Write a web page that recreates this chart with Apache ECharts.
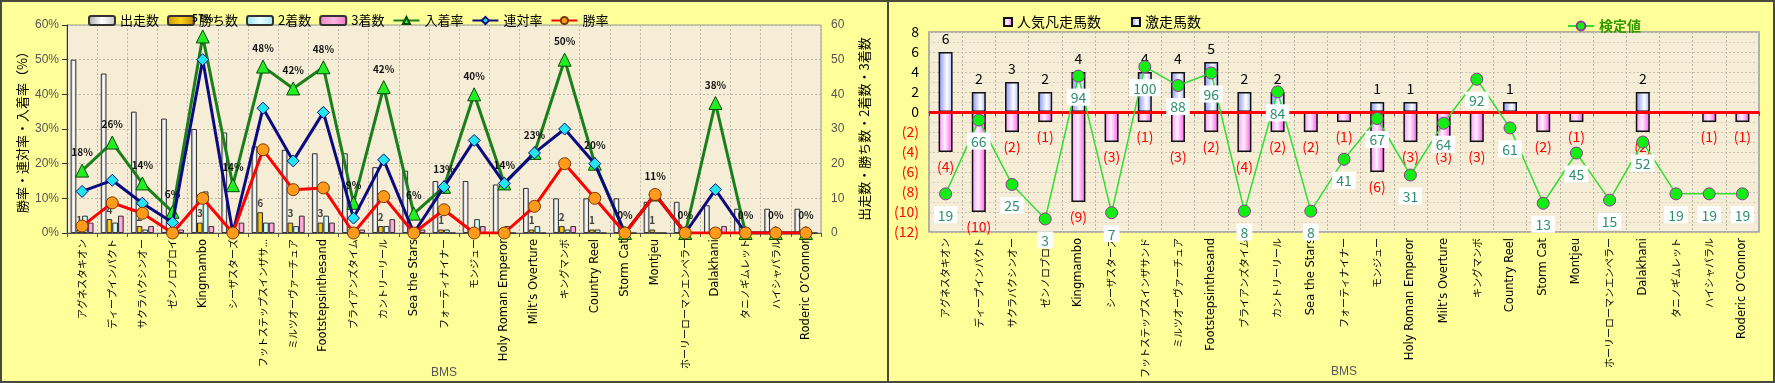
<!DOCTYPE html>
<html>
<head>
<meta charset="utf-8">
<script src="https://cdn.jsdelivr.net/npm/echarts@6/dist/echarts.min.js"></script>
<style>
html,body{margin:0;padding:0;background:#FFFF99;}
#wrap{position:relative;width:1775px;height:383px;}
#chart{position:absolute;left:0;top:0;width:1775px;height:383px;}
.bd{position:absolute;background:#4a4a3a;pointer-events:none;}
</style>
</head>
<body>
<div id="wrap">
<div id="chart"></div>
<div class="bd" style="left:0;top:0;width:1775px;height:2px;"></div>
<div class="bd" style="left:0;bottom:0;width:1775px;height:2px;"></div>
<div class="bd" style="left:0;top:0;width:2px;height:383px;"></div>
<div class="bd" style="right:0;top:0;width:2px;height:383px;"></div>
<div class="bd" style="left:887px;top:0;width:2px;height:383px;"></div>
</div>
<script>
// ---- data ----
const categories = ['アグネスタキオン','ディープインパクト','サクラバクシンオー','ゼンノロブロイ','Kingmambo','シーザスターズ','フットステップスインザサンド','ミルツオーヴァーチュア','Footstepsinthesand','ブライアンズタイム','カントリーリール','Sea the Stars','フォーティナイナー','モンジュー','Holy Roman Emperor','Milt’s Overture','キングマンボ','Country Reel','Storm Cat','Montjeu','ホーリーローマンエンペラー','Dalakhani','タニノギムレット','ハイシャパラル','Roderic O’Connor'];
const starts  = [50,46,35,33,30,29,25,24,23,23,19,18,15,15,14,13,10,10,10,9,9,8,7,7,7];
const wins    = [1,4,2,0,3,0,6,3,3,0,2,0,1,0,0,1,2,1,0,1,0,0,0,0,0];
const seconds = [5,3,1,1,12,0,3,2,5,1,2,0,1,4,2,2,1,1,0,0,0,1,0,0,0];
const thirds  = [3,5,2,1,2,3,3,5,3,1,4,1,0,2,0,0,2,0,0,0,0,2,0,0,0];
const placeRate = [18,26.1,14.3,6.1,56.7,13.8,48,41.7,47.8,8.7,42.1,5.6,13.3,40,14.3,23.1,50,20,0,11.1,0,37.5,0,0,0];
const quinellaRate = [12,15.2,8.6,3,50,0,36,20.8,34.8,4.3,21.1,0,13.3,26.7,14.3,23.1,30,20,0,11.1,0,12.5,0,0,0];
const winRate = [2,8.7,5.7,0,10,0,24,12.5,13,0,10.5,0,6.7,0,0,7.7,20,10,0,11.1,0,0,0,0,0];
const gekisou = [6,2,3,2,4,0,4,4,5,2,2,0,0,1,1,0,0,1,0,0,0,2,0,0,0];
const bonsou  = [-4,-10,-2,-1,-9,-3,-1,-3,-2,-4,-2,-2,-1,-6,-3,-3,-3,0,-2,-1,0,-2,0,-1,-1];
const kentei  = [19,66,25,3,94,7,100,88,96,8,84,8,41,67,31,64,92,61,13,45,15,52,19,19,19];

const FONT = '"Noto Sans CJK JP", "Noto Sans", sans-serif';
const LAT = '"Liberation Sans", Arial, sans-serif';
const DJV = '"DejaVu Sans", sans-serif';
const G = echarts.graphic.LinearGradient;
const plotBg = '#F6EDD6';

const chart = echarts.init(document.getElementById('chart'), null, {renderer:'canvas'});

const isKana = s => /[\u3040-\u30ff]/.test(s);
const xCommon = (gi, w) => ({
  type:'category', gridIndex:gi, data:categories,
  name:'BMS', nameLocation:'middle', nameGap:134, nameMoveOverlap:false,
  nameTextStyle:{color:'#555', fontSize:12, fontFamily:LAT},
  axisLine:{lineStyle:{color:'#555'}},
  axisTick:{show:true, length:4, lineStyle:{color:'#555'}},
  axisLabel:{interval:0, rotate:90, color:'#000', margin:6,
             width:w, overflow:'truncate',
             formatter:v => isKana(v) ? '{jp|'+v+'}' : '{en|'+v+'}',
             rich:{jp:{fontSize:10, fontFamily:FONT, color:'#000'},
                   en:{fontSize:11.5, fontFamily:DJV, color:'#000'}}},
  splitLine:{show:true, interval:0, lineStyle:{color:'#bdb6a6', type:[2,2], width:1}}
});

const option = {
  animation:false,
  textStyle:{fontFamily:FONT},
  grid:[
    {left:67, top:25, width:754, height:208, outerBoundsMode:'none', containLabel:false, show:true, backgroundColor:plotBg, borderColor:'#999', borderWidth:1},
    {left:929, top:32, width:830, height:200, outerBoundsMode:'none', containLabel:false, show:true, backgroundColor:plotBg, borderColor:'#999', borderWidth:1.5}
  ],
  legend:[
    {left:83, top:9, itemWidth:26, itemHeight:9, itemGap:8,
     textStyle:{fontSize:13, color:'#000', fontFamily:FONT},
     data:['出走数','勝ち数','2着数','3着数','入着率','連対率','勝率']},
    {left:998, top:10, itemWidth:8, itemHeight:8, itemGap:30, icon:'rect',
     textStyle:{fontSize:14, color:'#000', fontFamily:FONT},
     data:['人気凡走馬数','激走馬数']},
    {left:1562, top:14, itemWidth:26, itemHeight:11,
     textStyle:{fontSize:14, color:'#339900', fontWeight:'bold', fontFamily:FONT},
     data:['検定値']}
  ],
  xAxis:[ xCommon(0,133), xCommon(1,170) ],
  yAxis:[
    {type:'value', gridIndex:0, position:'left', min:0, max:60, interval:10,
     axisLine:{show:true, lineStyle:{color:'#333'}}, axisTick:{show:true, lineStyle:{color:'#333'}},
     axisLabel:{formatter:v=>v+'%', color:'#555', fontSize:12, fontFamily:LAT, margin:8},
     splitLine:{show:true, lineStyle:{color:'#bdb6a6', type:[2,2]}},
     name:'勝率・連対率・入着率（%）', nameLocation:'middle', nameRotate:90, nameGap:38,
     nameTextStyle:{fontSize:13, color:'#000', fontFamily:FONT}},
    {type:'value', gridIndex:0, position:'right', min:0, max:60, interval:10,
     axisLine:{show:false}, axisTick:{show:false},
     axisLabel:{color:'#555', fontSize:12, fontFamily:LAT, margin:10},
     splitLine:{show:false},
     name:'出走数・勝ち数・2着数・3着数', nameLocation:'middle', nameRotate:90, nameGap:37,
     nameTextStyle:{fontSize:13, color:'#000', fontFamily:FONT}},
    {type:'value', gridIndex:1, min:-12, max:8, interval:2,
     axisLine:{show:false}, axisTick:{show:false},
     axisLabel:{fontSize:14, fontFamily:FONT, margin:10,
       formatter:v=> v<0 ? '('+(-v)+')' : String(v),
       color:(v)=> (Number(v)<0 ? '#FF0000' : '#000')},
     splitLine:{show:true, lineStyle:{color:'#c9c2b2', type:[2,2]}},
     minorTick:{show:false, splitNumber:2},
     minorSplitLine:{show:true, lineStyle:{color:'#d8d1c0', type:[2,2]}}},
    {type:'value', gridIndex:1, min:-5.3, max:122.1, show:false, splitLine:{show:false}}
  ],
  series:[
    {name:'出走数', type:'bar', xAxisIndex:0, yAxisIndex:1, data:starts,
     barCategoryGap:'24%', barGap:'0%',
     itemStyle:{color:new G(0,0,1,0,[{offset:0,color:'#a8a8a8'},{offset:0.5,color:'#ffffff'},{offset:1,color:'#c4c4c4'}]), borderColor:'#333', borderWidth:1}},
    {name:'勝ち数', type:'bar', xAxisIndex:0, yAxisIndex:1, data:wins, barGap:'0%',
     itemStyle:{color:new G(0,0,1,0,[{offset:0,color:'#c89400'},{offset:0.5,color:'#ffd21a'},{offset:1,color:'#b58500'}]), borderColor:'#333', borderWidth:1},
     label:{show:true, position:'top', distance:4, fontSize:10, color:'#444', fontWeight:'bold', formatter:p=>p.value>0?String(p.value):''}},
    {name:'2着数', type:'bar', xAxisIndex:0, yAxisIndex:1, data:seconds, barGap:'0%',
     itemStyle:{color:new G(0,0,1,0,[{offset:0,color:'#8fdfee'},{offset:0.5,color:'#e8ffff'},{offset:1,color:'#9fe6f2'}]), borderColor:'#333', borderWidth:1}},
    {name:'3着数', type:'bar', xAxisIndex:0, yAxisIndex:1, data:thirds, barGap:'0%',
     itemStyle:{color:new G(0,0,1,0,[{offset:0,color:'#f080c8'},{offset:0.5,color:'#ffb8e0'},{offset:1,color:'#ee78c0'}]), borderColor:'#333', borderWidth:1}},
    {name:'入着率', type:'line', xAxisIndex:0, yAxisIndex:0, data:placeRate, z:5,
     lineStyle:{color:'#1a7f1a', width:3}, symbol:'triangle', symbolSize:13,
     itemStyle:{color:'#22ee22', borderColor:'#0a4a0a', borderWidth:1},
     label:{show:true, position:'top', distance:6, fontSize:10, fontWeight:'bold', color:'#111', formatter:p=>Math.round(p.value)+'%'}},
    {name:'連対率', type:'line', xAxisIndex:0, yAxisIndex:0, data:quinellaRate, z:6,
     lineStyle:{color:'#0b0b80', width:3}, symbol:'diamond', symbolSize:12,
     itemStyle:{color:'#22e5ee', borderColor:'#0b0b80', borderWidth:1}},
    {name:'勝率', type:'line', xAxisIndex:0, yAxisIndex:0, data:winRate, z:7,
     lineStyle:{color:'#ff0000', width:3}, symbol:'circle', symbolSize:12,
     itemStyle:{color:'#ff9a1a', borderColor:'#7a3a00', borderWidth:1}},

    {name:'人気凡走馬数', type:'bar', xAxisIndex:1, yAxisIndex:2, data:bonsou, barWidth:14, barGap:'-100%',
     itemStyle:{color:new G(0,0,1,0,[{offset:0,color:'#ff8cff'},{offset:0.45,color:'#fff2ff'},{offset:1,color:'#ff55ee'}]), borderColor:'#111', borderWidth:1.5},
     label:{show:true, position:'bottom', distance:8, fontSize:14, color:'#ff0000', formatter:p=>p.value<0?'('+(-p.value)+')':''}},
    {name:'激走馬数', type:'bar', xAxisIndex:1, yAxisIndex:2, data:gekisou, barWidth:14, barGap:'-100%',
     itemStyle:{color:new G(0,0,1,0,[{offset:0,color:'#7f8cff'},{offset:0.6,color:'#ffffff'},{offset:1,color:'#aab4ff'}]), borderColor:'#111', borderWidth:1.5},
     label:{show:true, position:'top', distance:6, fontSize:14, color:'#000', formatter:p=>p.value>0?String(p.value):''},
     markLine:{silent:true, symbol:'none', label:{show:false}, lineStyle:{color:'#ff0000', width:3, type:'solid'}, data:[{yAxis:0}]}},
    {name:'検定値', type:'line', xAxisIndex:1, yAxisIndex:3, data:kentei, z:8,
     lineStyle:{color:'#33dd33', width:1.5}, symbol:'circle', symbolSize:12,
     itemStyle:{color:'#11ee11', borderColor:'#993399', borderWidth:1},
     label:{show:true, position:'bottom', distance:6, fontSize:14, color:'#2f8f6f', backgroundColor:'#ffffff', padding:[2,4,1,4]}}
  ]
};
chart.setOption(option);
</script>
</body>
</html>
